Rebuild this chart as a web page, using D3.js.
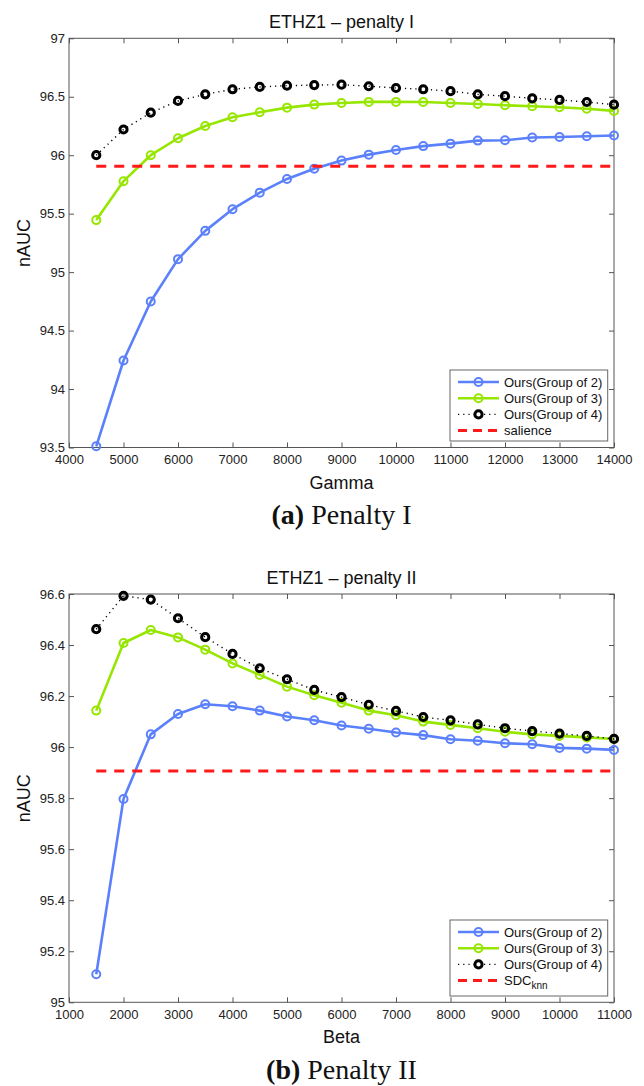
<!DOCTYPE html>
<html><head><meta charset="utf-8">
<script src="https://cdn.jsdelivr.net/npm/d3@7"></script>
<style>body{margin:0;background:#fff}svg{display:block}</style>
</head><body>
<script>
// ---------- Panel (a): penalty I ----------
const gammaValues = [4500,5000,5500,6000,6500,7000,7500,8000,8500,9000,9500,10000,10500,11000,11500,12000,12500,13000,13500,14000];
const p1Group2 = [93.51,94.244,94.749,95.111,95.353,95.538,95.68,95.797,95.885,95.954,96.005,96.045,96.078,96.099,96.125,96.128,96.152,96.156,96.162,96.168];
const p1Group3 = [95.445,95.778,96.0,96.145,96.25,96.325,96.367,96.407,96.433,96.447,96.456,96.456,96.455,96.447,96.438,96.427,96.419,96.41,96.398,96.379];
const p1Group4 = [96.0,96.22,96.364,96.464,96.521,96.564,96.584,96.595,96.6,96.603,96.59,96.575,96.564,96.548,96.52,96.505,96.487,96.473,96.455,96.432];
const p1Salience = 95.906;
const gammaTicks = [4000,5000,6000,7000,8000,9000,10000,11000,12000,13000,14000];
const p1YTicks = [93.5,94,94.5,95,95.5,96,96.5,97];

// ---------- Panel (b): penalty II ----------
const betaValues = [1500,2000,2500,3000,3500,4000,4500,5000,5500,6000,6500,7000,7500,8000,8500,9000,9500,10000,10500,11000];
const p2Group2 = [95.11,95.797,96.05,96.13,96.168,96.16,96.143,96.12,96.105,96.085,96.072,96.057,96.047,96.031,96.025,96.015,96.011,95.997,95.994,95.989];
const p2Group3 = [96.143,96.408,96.459,96.43,96.382,96.328,96.283,96.237,96.203,96.174,96.143,96.125,96.1,96.087,96.074,96.06,96.05,96.044,96.038,96.032];
const p2Group4 = [96.462,96.593,96.578,96.505,96.431,96.365,96.309,96.266,96.224,96.196,96.166,96.142,96.118,96.105,96.089,96.074,96.063,96.053,96.044,96.032];
const p2Sdc = 95.906;
const betaTicks = [1000,2000,3000,4000,5000,6000,7000,8000,9000,10000,11000];
const p2YTicks = [95,95.2,95.4,95.6,95.8,96,96.2,96.4,96.6];

const seriesNames = ["Ours(Group of 2)","Ours(Group of 3)","Ours(Group of 4)"];
const BLUE = "#5b80fb", GREEN = "#96e600", RED = "#ff1a1a";

const W = 644, H = 1086;
const svg = d3.select("body").append("svg").attr("width", W).attr("height", H);
const FONT = "'Liberation Sans', Arial, Helvetica, sans-serif";
const SERIF = "'Liberation Serif', 'Times New Roman', serif";

function drawPanel(cfg) {
  const left = 69, right = 614, top = cfg.top, bottom = cfg.bottom;
  const x = d3.scaleLinear().domain(cfg.xDomain).range([left, right]);
  const y = d3.scaleLinear().domain(cfg.yDomain).range([bottom, top]);
  const g = svg.append("g");

  // box
  g.append("rect").attr("x", left).attr("y", top).attr("width", right - left).attr("height", bottom - top)
    .attr("fill", "none").attr("stroke", "#555").attr("stroke-width", 1);

  const fmt = d => String(d);
  const axB = g.append("g").attr("transform", `translate(0,${bottom})`)
    .call(d3.axisBottom(x).tickValues(cfg.xTicks).tickFormat(fmt).tickSizeInner(-5).tickSizeOuter(0).tickPadding(7));
  const axT = g.append("g").attr("transform", `translate(0,${top})`)
    .call(d3.axisTop(x).tickValues(cfg.xTicks).tickFormat("").tickSizeInner(-5).tickSizeOuter(0));
  const axL = g.append("g").attr("transform", `translate(${left},0)`)
    .call(d3.axisLeft(y).tickValues(cfg.yTicks).tickFormat(fmt).tickSizeInner(-5).tickSizeOuter(0).tickPadding(4));
  const axR = g.append("g").attr("transform", `translate(${right},0)`)
    .call(d3.axisRight(y).tickValues(cfg.yTicks).tickFormat("").tickSizeInner(-5).tickSizeOuter(0));
  [axB, axT, axL, axR].forEach(a => {
    a.select(".domain").remove();
    a.selectAll(".tick line").attr("stroke", "#555");
    a.selectAll("text").attr("font-family", FONT).attr("font-size", 13).attr("fill", "#222");
  });

  // title & labels
  g.append("text").attr("x", (left + right) / 2).attr("y", top - 10).attr("text-anchor", "middle")
    .attr("font-family", FONT).attr("font-size", 18).attr("fill", "#111").text(cfg.title);
  g.append("text").attr("x", (left + right) / 2).attr("y", bottom + 41).attr("text-anchor", "middle")
    .attr("font-family", FONT).attr("font-size", 18).attr("fill", "#111").text(cfg.xLabel);
  g.append("text").attr("transform", `translate(30,${(top + bottom) / 2}) rotate(-90)`).attr("text-anchor", "middle")
    .attr("font-family", FONT).attr("font-size", 18).attr("fill", "#111").text("nAUC");

  // caption
  const cap = g.append("text").attr("x", (left + right) / 2).attr("y", bottom + 76.5).attr("text-anchor", "middle")
    .attr("font-family", SERIF).attr("font-size", 28).attr("fill", "#111");
  cap.append("tspan").attr("font-weight", "bold").text(cfg.capTag);
  cap.append("tspan").text(" " + cfg.capText);

  const line = d3.line().x((d, i) => x(cfg.xs[i])).y(d => y(d));
  const styles = [
    {color: BLUE, width: 2.6, dash: null, r: 4, mw: 2},
    {color: GREEN, width: 2.6, dash: null, r: 4, mw: 2},
    {color: "#000", width: 1.4, dash: "1.2,4", r: 3.6, mw: 3}
  ];
  cfg.series.forEach((s, k) => {
    const st = styles[k];
    g.append("path").datum(s).attr("d", line).attr("fill", "none").attr("stroke", st.color)
      .attr("stroke-width", st.width).attr("stroke-dasharray", st.dash).attr("stroke-linejoin", "round");
    g.append("g").selectAll("circle").data(s).join("circle")
      .attr("cx", (d, i) => x(cfg.xs[i])).attr("cy", d => y(d)).attr("r", st.r)
      .attr("fill", "none").attr("stroke", st.color).attr("stroke-width", st.mw);
  });
  // baseline
  g.append("line").attr("x1", x(cfg.xs[0])).attr("x2", x(cfg.xs[cfg.xs.length - 1]))
    .attr("y1", y(cfg.base)).attr("y2", y(cfg.base))
    .attr("stroke", RED).attr("stroke-width", 3).attr("stroke-dasharray", "10,8");

  // legend
  const lg = g.append("g").attr("transform", `translate(450,${cfg.legTop})`);
  lg.append("rect").attr("width", 157.7).attr("height", cfg.legH).attr("fill", "#fff").attr("stroke", "#666").attr("stroke-width", 1);
  const rowY = i => 12 + i * 16.2;
  styles.forEach((st, i) => {
    lg.append("line").attr("x1", 8).attr("x2", 49).attr("y1", rowY(i)).attr("y2", rowY(i))
      .attr("stroke", st.color).attr("stroke-width", st.width).attr("stroke-dasharray", st.dash);
    lg.append("circle").attr("cx", 28.5).attr("cy", rowY(i)).attr("r", st.r).attr("fill", i === 2 ? "#fff" : "none")
      .attr("stroke", st.color).attr("stroke-width", st.mw);
    lg.append("text").attr("x", 54).attr("y", rowY(i)).attr("dy", "0.35em")
      .attr("font-family", FONT).attr("font-size", 13).attr("fill", "#111").text(seriesNames[i]);
  });
  lg.append("line").attr("x1", 8).attr("x2", 49).attr("y1", rowY(3)).attr("y2", rowY(3))
    .attr("stroke", RED).attr("stroke-width", 3).attr("stroke-dasharray", "9,6");
  const bt = lg.append("text").attr("x", 54).attr("y", rowY(3)).attr("dy", "0.35em")
    .attr("font-family", FONT).attr("font-size", 13).attr("fill", "#111");
  bt.append("tspan").text(cfg.baseName);
  if (cfg.baseSub) bt.append("tspan").attr("font-size", 10).attr("dy", "4").text(cfg.baseSub);
}

drawPanel({
  top: 38.3, bottom: 447.5, xDomain: [4000, 14000], yDomain: [93.5, 97],
  xTicks: gammaTicks, yTicks: p1YTicks, xs: gammaValues,
  series: [p1Group2, p1Group3, p1Group4], base: p1Salience,
  title: "ETHZ1 \u2013 penalty I", xLabel: "Gamma", capTag: "(a)", capText: "Penalty I",
  legTop: 370, legH: 71, baseName: "salience", baseSub: null
});
drawPanel({
  top: 594, bottom: 1002.3, xDomain: [1000, 11000], yDomain: [95, 96.6],
  xTicks: betaTicks, yTicks: p2YTicks, xs: betaValues,
  series: [p2Group2, p2Group3, p2Group4], base: p2Sdc,
  title: "ETHZ1 \u2013 penalty II", xLabel: "Beta", capTag: "(b)", capText: "Penalty II",
  legTop: 920, legH: 76, baseName: "SDC", baseSub: "knn"
});
</script>
</body></html>
